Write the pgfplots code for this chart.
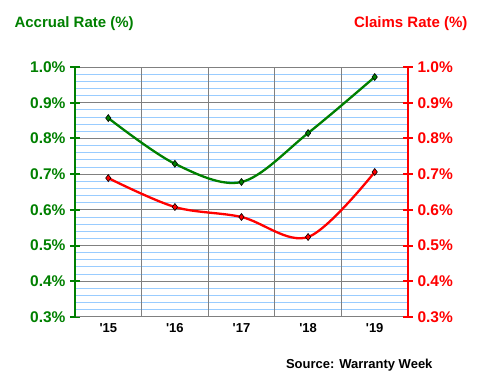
\documentclass[border=0pt]{standalone}
\usepackage{pgfplots}
\pgfplotsset{compat=1.18}
\usepackage{fontspec}
\setmainfont{Liberation Sans}
\definecolor{accg}{RGB}{0,128,0}
\definecolor{clr}{RGB}{255,0,0}
\definecolor{lblue}{RGB}{153,204,255}
\definecolor{ggray}{RGB}{128,128,128}
\begin{document}
\begin{tikzpicture}[x=1pt,y=1pt]
\path[use as bounding box] (0,0) rectangle (480,380);
\begin{axis}[
  at={(75pt,63pt)}, anchor=south west,
  scale only axis, width=333pt, height=250pt,
  xmin=-0.5, xmax=4.5, ymin=0.3, ymax=1.0,
  axis x line*=bottom, axis y line*=left,
  x axis line style={ggray, line width=1pt, -},
  y axis line style={accg, line width=2pt, -},
  xtick={0,1,2,3,4},
  xticklabels={\textquotesingle15,\textquotesingle16,\textquotesingle17,\textquotesingle18,\textquotesingle19},
  major x tick style={draw=none},
  extra x ticks={0.5,1.5,2.5,3.5},
  extra x tick labels={},
  extra x tick style={grid=major, major grid style={ggray, line width=1pt}, major tick length=5pt, tick style={ggray, line width=1pt}, tick align=outside},
  xticklabel style={font=\bfseries\fontsize{13}{15}\selectfont, black, yshift=-3pt},
  ytick={0.3,0.4,0.5,0.6,0.7,0.8,0.9,1.0},
  minor ytick={0.32,0.34,0.36,0.38,0.42,0.44,0.46,0.48,0.52,0.54,0.56,0.58,0.62,0.64,0.66,0.68,0.72,0.74,0.76,0.78,0.82,0.84,0.86,0.88,0.92,0.94,0.96,0.98},
  ymajorgrids, yminorgrids,
  major grid style={ggray, line width=1pt},
  minor grid style={lblue, line width=1pt},
  minor y tick style={draw=none},
  major y tick style={accg, line width=2pt},
  ytick align=center, major tick length=10pt,
  yticklabel={\pgfmathprintnumber[fixed,fixed zerofill,precision=1]{\tick}\%},
  yticklabel style={font=\bfseries\fontsize{15.5}{17}\selectfont, text=accg, xshift=-1pt},
  /pgf/number format/assume math mode=true,
  clip=false,
]
\addplot[accg, line width=2.3pt, smooth, tension=0.55, mark=diamond*, mark size=3.5pt, mark options={fill=accg, draw=black, line width=0.6pt}]
  coordinates {(0,0.857) (1,0.729) (2,0.678) (3,0.815) (4,0.972)};
\end{axis}
\begin{axis}[
  at={(75pt,63pt)}, anchor=south west,
  scale only axis, width=333pt, height=250pt,
  xmin=-0.5, xmax=4.5, ymin=0.3, ymax=1.0,
  axis x line=none, axis y line*=right,
  y axis line style={clr, line width=2pt, -},
  xtick=\empty,
  ytick={0.3,0.4,0.5,0.6,0.7,0.8,0.9,1.0},
  major y tick style={clr, line width=2pt},
  ytick align=center, major tick length=10pt,
  yticklabel={\pgfmathprintnumber[fixed,fixed zerofill,precision=1]{\tick}\%},
  yticklabel style={font=\bfseries\fontsize{15.5}{17}\selectfont, text=clr, xshift=1pt},
  /pgf/number format/assume math mode=true,
  clip=false,
]
\addplot[clr, line width=2.3pt, smooth, tension=0.55, mark=diamond*, mark size=3.5pt, mark options={fill=clr, draw=black, line width=0.6pt}]
  coordinates {(0,0.689) (1,0.608) (2,0.580) (3,0.524) (4,0.706)};
\end{axis}
\node[anchor=west, text=accg, font=\bfseries\fontsize{15}{17}\selectfont] at (11,356) {Accrual Rate (\%)};
\node[anchor=east, text=clr, font=\bfseries\fontsize{15}{17}\selectfont] at (471,356) {Claims Rate (\%)};
\node[anchor=east, text=black, font=\bfseries\fontsize{13}{15}\selectfont] at (436,15) {Source: Warranty Week};
\end{tikzpicture}
\end{document}
